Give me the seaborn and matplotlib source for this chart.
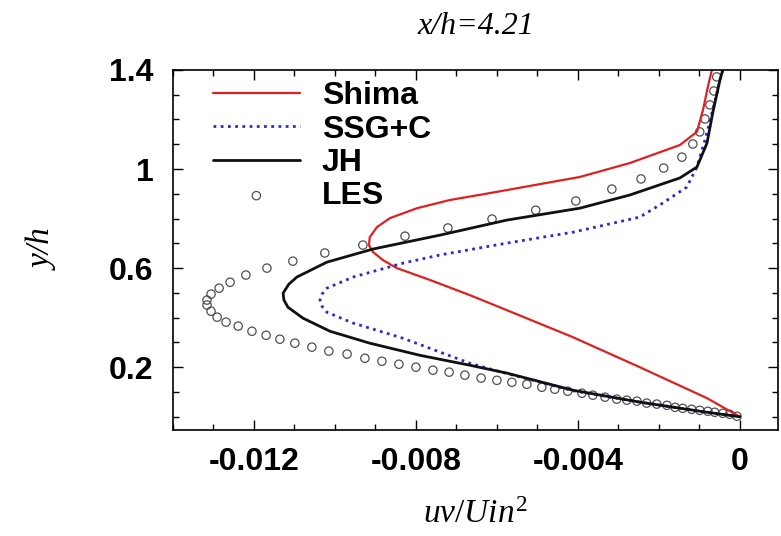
import numpy as np
import pandas as pd
import matplotlib
matplotlib.use("Agg")
import matplotlib.pyplot as plt
import seaborn as sns
from matplotlib.ticker import MultipleLocator

# Reynolds shear stress profiles at x/h = 4.21
shima_uv = [-0.00069, -0.00079, -0.00091, -0.00106, -0.00148, -0.00272, -0.00395,
            -0.00617, -0.00716, -0.00797, -0.00864, -0.00896, -0.00914, -0.00916,
            -0.00906, -0.00881, -0.00847, -0.00765, -0.00667, -0.00575, -0.00412,
            -0.00247, -0.00081, 0.0]
shima_y = [1.40, 1.331, 1.238, 1.150, 1.097, 1.024, 0.968,
           0.903, 0.875, 0.842, 0.802, 0.766, 0.725, 0.693,
           0.665, 0.632, 0.600, 0.552, 0.491, 0.430, 0.321,
           0.200, 0.075, 0.0]

ssg_uv = [-0.00042, -0.00049, -0.00067, -0.00086, -0.00106, -0.00131, -0.00190,
          -0.00247, -0.00412, -0.00575, -0.00741, -0.00832, -0.00955, -0.01020,
          -0.01032, -0.01037, -0.01032, -0.01020, -0.00955, -0.00832, -0.00667,
          -0.00575, -0.00412, -0.00247, -0.00081, 0.0]
ssg_y = [1.40, 1.36, 1.238, 1.117, 1.008, 0.927, 0.863,
         0.806, 0.745, 0.701, 0.653, 0.620, 0.564, 0.519,
         0.495, 0.471, 0.446, 0.422, 0.378, 0.317, 0.216,
         0.174, 0.105, 0.059, 0.018, 0.0]

jh_uv = [-0.00042, -0.00049, -0.00067, -0.00081, -0.00106, -0.00148, -0.00272,
         -0.00395, -0.00575, -0.00741, -0.00906, -0.01020, -0.01094, -0.01114,
         -0.01128, -0.01126, -0.01116, -0.01079, -0.01012, -0.00914, -0.00790,
         -0.00667, -0.00575, -0.00412, -0.00247, -0.00081, 0.0]
jh_y = [1.40, 1.36, 1.226, 1.105, 1.008, 0.964, 0.895,
        0.842, 0.794, 0.733, 0.677, 0.624, 0.564, 0.535,
        0.499, 0.471, 0.442, 0.398, 0.345, 0.297, 0.248,
        0.208, 0.176, 0.107, 0.059, 0.018, 0.0]

les_uv = [-0.00057, -0.00064, -0.00074, -0.00086, -0.00099, -0.00116, -0.00143,
          -0.00188, -0.00244, -0.00316, -0.00405, -0.00504, -0.00612, -0.00721,
          -0.00827, -0.00931, -0.01025, -0.01104, -0.01168, -0.01220, -0.01259,
          -0.01286, -0.01306, -0.01316, -0.01316, -0.01306, -0.01291, -0.01269,
          -0.01239, -0.01205, -0.01170, -0.01136, -0.01099, -0.01057, -0.01015,
          -0.00970, -0.00926, -0.00884, -0.00842, -0.00800, -0.00758, -0.00718,
          -0.00679, -0.00639, -0.00600, -0.00563, -0.00526, -0.00489, -0.00457,
          -0.00425, -0.00390, -0.00363, -0.00333, -0.00304, -0.00279, -0.00254,
          -0.00230, -0.00205, -0.00180, -0.00160, -0.00141, -0.00119, -0.00099,
          -0.00079, -0.00062, -0.00042, -0.00025, -0.00007]
les_y = [1.372, 1.315, 1.259, 1.202, 1.150, 1.101, 1.048,
         1.004, 0.960, 0.919, 0.871, 0.834, 0.798, 0.762,
         0.729, 0.693, 0.661, 0.628, 0.600, 0.572, 0.543,
         0.519, 0.495, 0.471, 0.451, 0.426, 0.402, 0.382,
         0.366, 0.345, 0.329, 0.313, 0.297, 0.281, 0.265,
         0.253, 0.236, 0.224, 0.212, 0.200, 0.188, 0.180,
         0.168, 0.156, 0.147, 0.139, 0.131, 0.119, 0.111,
         0.103, 0.095, 0.087, 0.079, 0.071, 0.067, 0.063,
         0.055, 0.051, 0.046, 0.038, 0.034, 0.030, 0.026,
         0.022, 0.018, 0.014, 0.010, 0.002]

x_ticks = [-0.012, -0.008, -0.004, 0.0]
x_tick_labels = ["-0.012", "-0.008", "-0.004", "0"]
y_ticks = [0.2, 0.6, 1.0, 1.4]
y_tick_labels = ["0.2", "0.6", "1", "1.4"]

sns.set_style("ticks")
plt.rcParams["font.family"] = ["Liberation Sans", "DejaVu Sans"]
plt.rcParams["mathtext.fontset"] = "custom"
plt.rcParams["mathtext.rm"] = "Liberation Serif"
plt.rcParams["mathtext.it"] = "Liberation Serif:italic"
for key in ("text.color", "axes.labelcolor", "xtick.color", "ytick.color",
            "axes.edgecolor"):
    plt.rcParams[key] = "black"

fig = plt.figure(figsize=(7.81, 5.36), dpi=100)
ax = fig.add_axes([0.2215, 0.198, 0.7745, 0.6715])

shima = pd.DataFrame({"uv": shima_uv, "y": shima_y})
ssg = pd.DataFrame({"uv": ssg_uv, "y": ssg_y})
jh = pd.DataFrame({"uv": jh_uv, "y": jh_y})
les = pd.DataFrame({"uv": les_uv, "y": les_y})

sns.lineplot(data=shima, x="uv", y="y", sort=False, estimator=None, ax=ax,
             color="#e02020", linewidth=1.6, label="Shima")
sns.lineplot(data=ssg, x="uv", y="y", sort=False, estimator=None, ax=ax,
             color="#2a2ad0", linewidth=2.0, linestyle=(0, (1, 1.6)), label="SSG+C")
sns.lineplot(data=jh, x="uv", y="y", sort=False, estimator=None, ax=ax,
             color="#111111", linewidth=2.0, label="JH")
sns.scatterplot(data=les, x="uv", y="y", ax=ax, marker="o", s=36,
                facecolor="none", edgecolor="#505050", linewidth=0.9, label="LES")

ax.set_xlim(-0.014, 0.00094)
ax.set_ylim(-0.053, 1.4)
ax.set_xticks(x_ticks)
ax.set_xticklabels(x_tick_labels)
ax.set_yticks(y_ticks)
ax.set_yticklabels(y_tick_labels)
ax.xaxis.set_minor_locator(MultipleLocator(0.001))
ax.yaxis.set_minor_locator(MultipleLocator(0.1))
ax.tick_params(which="both", direction="in", top=True, right=True, width=1.0,
               colors="black")
ax.tick_params(which="major", length=7, labelsize=23)
ax.tick_params(axis="y", which="major", pad=14)
ax.tick_params(axis="x", which="major", pad=12)
ax.tick_params(which="minor", length=4)
for lab in ax.get_xticklabels() + ax.get_yticklabels():
    lab.set_fontweight("bold")
for side in ax.spines.values():
    side.set_linewidth(1.2)
    side.set_color("black")

serif = ["Liberation Serif", "DejaVu Serif"]
ax.set_xlabel(r"$uv/Uin^2$", fontsize=24, labelpad=16)
ax.set_ylabel("y/h", fontsize=24, family=serif, style="italic", labelpad=36)
ax.set_title("x/h=4.21", fontsize=23, family=serif, style="italic", pad=26)

leg = ax.legend(loc="upper left", bbox_to_anchor=(0.066, 0.968), frameon=False,
                prop={"weight": "bold", "size": 23}, handlelength=2.72,
                handletextpad=0.69, labelspacing=0.1, borderaxespad=0.0,
                borderpad=0.0)
for txt in leg.get_texts():
    txt.set_color("black")

fig.savefig("out.png", dpi=100)
